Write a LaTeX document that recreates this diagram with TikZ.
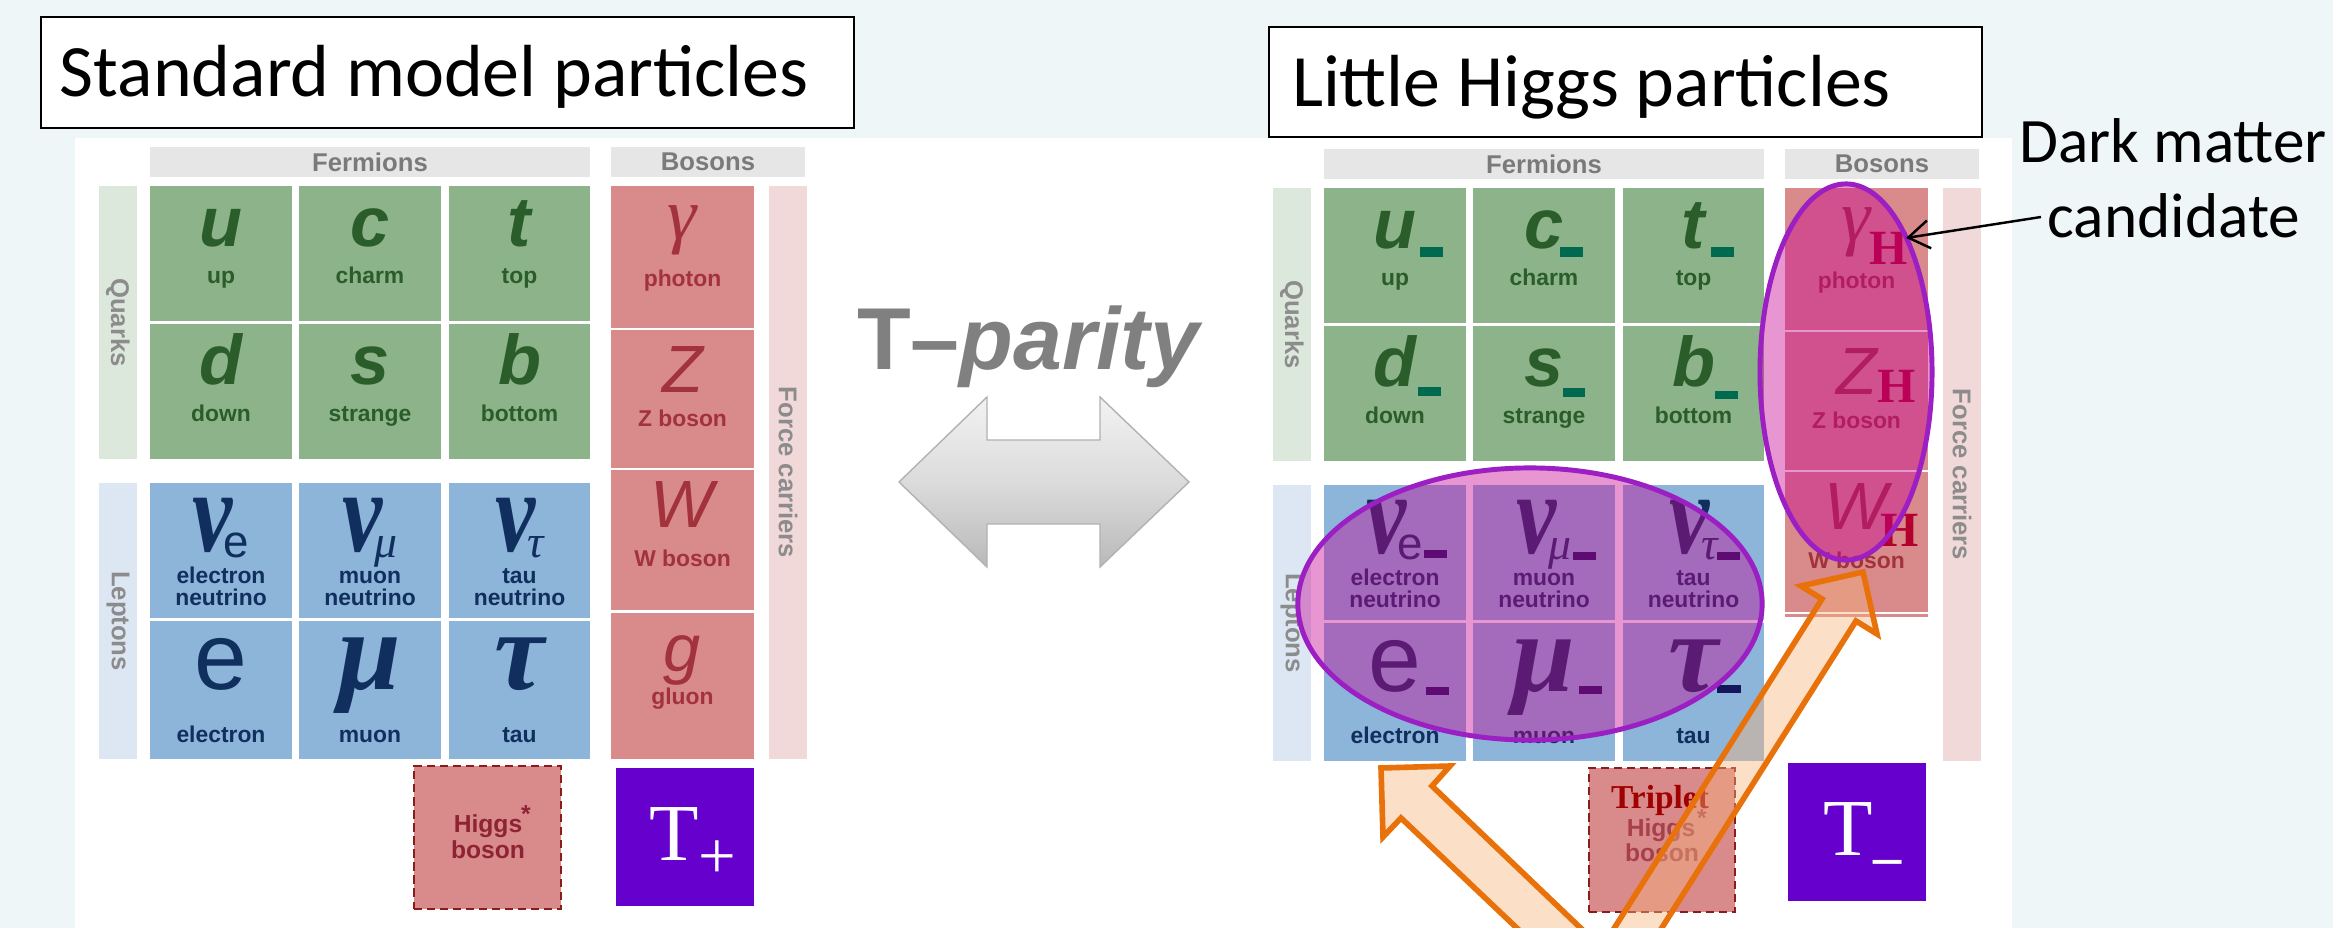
\documentclass[tikz,border=0pt]{standalone}
\usepackage{fontspec}
\usetikzlibrary{shapes.geometric,arrows.meta}
\newfontfamily\lsans{Liberation Sans}
\newfontfamily\lserif{Liberation Serif}
\newfontfamily\calib{Carlito}
\newcommand\fsz[1]{\fontsize{#1}{#1}\selectfont}
\definecolor{bgc}{HTML}{EEF6F8}
\definecolor{gcell}{HTML}{8DB38B}
\definecolor{gtext}{HTML}{2A5D2A}
\definecolor{bcell}{HTML}{8DB4D9}
\definecolor{btext}{HTML}{102E5E}
\definecolor{rcell}{HTML}{D98A8A}
\definecolor{rtext}{HTML}{A2323C}
\definecolor{hdrc}{HTML}{E6E6E6}
\definecolor{hdrt}{HTML}{7A7A7A}
\definecolor{qbarc}{HTML}{DDE8DD}
\definecolor{lbarc}{HTML}{DCE7F3}
\definecolor{fbarc}{HTML}{F1D8D9}
\definecolor{bart}{HTML}{8C8C8C}
\definecolor{tpurple}{HTML}{6600CC}
\definecolor{hborder}{HTML}{8A1C1C}
\definecolor{htext}{HTML}{8E2433}
\definecolor{htext2}{HTML}{A8404C}
\definecolor{tripc}{HTML}{A00000}
\definecolor{magfill}{RGB}{199,1,148}
\definecolor{magline}{HTML}{9B1FC3}
\definecolor{orangeline}{RGB}{232,113,10}
\definecolor{peach}{RGB}{246,180,122}
\definecolor{qmark}{HTML}{006A50}
\definecolor{lmark}{HTML}{15155E}
\definecolor{hred}{HTML}{B3002F}
\definecolor{tparc}{HTML}{808080}
\tikzset{
  every node/.style={inner sep=0pt, outer sep=0pt},
  gc/.style={fill=gcell},
  bc/.style={fill=bcell},
  rc/.style={fill=rcell},
  hb/.style={fill=hdrc},
  hdrtxt/.style={font=\lsans\bfseries\fsz{7.3}, text=hdrt},
  bartxt/.style={font=\lsans\bfseries\fsz{7.3}, text=bart, rotate=-90},
  qsym/.style={font=\lsans\bfseries\itshape\fsz{20}, text=gtext, anchor=base},
  nusym/.style={font=\lserif\bfseries\itshape\fsz{33}, text=btext, anchor=base},
  bsym/.style={text=btext, anchor=base},
  rsym/.style={font=\lsans\itshape\fsz{19}, text=rtext, anchor=base},
  glab/.style={font=\lsans\bfseries\fsz{6.5}, text=gtext, anchor=base},
  blab/.style={font=\lsans\bfseries\fsz{6.5}, text=btext, anchor=base},
  rlab/.style={font=\lsans\bfseries\fsz{6.5}, text=rtext, anchor=base},
  titlebox/.style={draw=black, line width=0.8pt, fill=white},
  titletxt/.style={font=\calib\fsz{21}, text=black, anchor=base west},
  higgsbox/.style={fill=rcell, draw=hborder, line width=0.8pt, dash pattern=on 2.3pt off 1.4pt},
  higgstxt/.style={font=\lsans\bfseries\fsz{7}, text=htext, anchor=base},
  tbox/.style={fill=tpurple},
  ttxt/.style={font=\lserif\fsz{23}, text=white, anchor=base},
  hsub/.style={font=\lserif\bfseries\fsz{14}, text=hred, anchor=base},
  blob/.style={ellipse, fill=magfill, fill opacity=0.41, draw=magline, line width=1.4pt},
  bigarrow/.style={draw=orangeline, line width=1.6pt, fill=peach, fill opacity=0.42, line join=miter},
}
% name x1 y1 x2 y2 style
\newcommand\cbox[6]{\node[#6, minimum width={(#4-#2)*0.01cm}, minimum height={(#5-#3)*0.01cm}] (#1) at ({(#2+#4)/2},{(#3+#5)/2}) {};}
\newcommand\qcell[7]{%
  \cbox{#1}{#2}{#3}{#4}{#5}{gc}
  \node[qsym] (#1s) at ({(#2+#4)/2},{#3+61}) {#6};
  \node[glab] (#1l) at ({(#2+#4)/2},{#3+98}) {#7};}
\newcommand\nucell[7]{%
  \cbox{#1}{#2}{#3}{#4}{#5}{bc}
  \node[nusym] (#1s) at ({(#2+#4)/2},{#3+69}) {\scalebox{0.78}[1]{ν}\kern-2.5pt\raisebox{-1.6pt}{#6}};
  \node[blab] (#1l) at ({(#2+#4)/2},{#3+101}) {#7};
  \node[blab] (#1m) at ({(#2+#4)/2},{#3+123}) {neutrino};}
\newcommand\lcell[7]{%
  \cbox{#1}{#2}{#3}{#4}{#5}{bc}
  \node[bsym] (#1s) at ({(#2+#4)/2},{#3+69}) {#6};
  \node[blab] (#1l) at ({(#2+#4)/2},{#3+121}) {#7};}
\newcommand\fgrid[1]{%
  \cbox{#1fer}{150}{147}{590}{177}{hb}
  \node[hdrtxt] (#1fert) at (#1fer) {Fermions};
  \cbox{#1bos}{611}{147}{805}{177}{hb}
  \node[hdrtxt] (#1bost) at (#1bos) {Bosons};
  \cbox{#1qb}{99}{186}{137}{459}{fill=qbarc}
  \node[bartxt] (#1qbt) at (#1qb) {Quarks};
  \cbox{#1lb}{99}{483}{137}{759}{fill=lbarc}
  \node[bartxt] (#1lbt) at (#1lb) {Leptons};
  \cbox{#1fb}{769}{186}{807}{759}{fill=fbarc}
  \node[bartxt] (#1fbt) at (#1fb) {Force carriers};
  \qcell{#1u}{150}{186}{292}{321}{u}{up}
  \qcell{#1c}{299}{186}{441}{321}{c}{charm}
  \qcell{#1t}{449}{186}{590}{321}{t}{top}
  \qcell{#1d}{150}{324}{292}{459}{d}{down}
  \qcell{#1s}{299}{324}{441}{459}{s}{strange}
  \qcell{#1b}{449}{324}{590}{459}{b}{bottom}
  \nucell{#1ne}{150}{483}{292}{618}{{\lsans\mdseries\upshape\fsz{13}e}}{electron}
  \nucell{#1nm}{299}{483}{441}{618}{{\lserif\mdseries\itshape\fsz{13}μ}}{muon}
  \nucell{#1nt}{449}{483}{590}{618}{{\lserif\mdseries\itshape\fsz{13}τ}}{tau}
  \lcell{#1e}{150}{621}{292}{759}{{\lsans\fsz{27}e}}{electron}
  \lcell{#1m}{299}{621}{441}{759}{{\lserif\bfseries\itshape\fsz{32}μ}}{muon}
  \lcell{#1ta}{449}{621}{590}{759}{{\lserif\bfseries\itshape\fsz{32}τ}}{tau}
  \cbox{#1ga}{611}{186}{754}{328}{rc}
  \node[font=\lserif\itshape\fsz{21}, text=rtext, anchor=base] (#1gas) at (682.5,240) {γ};
  \node[rlab] (#1gal) at (682.5,287) {photon};
  \cbox{#1z}{611}{330}{754}{468}{rc}
  \node[rsym] (#1zs) at (682.5,393) {Z};
  \node[rlab] (#1zl) at (682.5,427) {Z boson};
  \cbox{#1w}{611}{470}{754}{610}{rc}
  \node[rsym] (#1ws) at (682.5,528) {W};
  \node[rlab] (#1wl) at (682.5,567) {W boson};
}
\begin{document}
\begin{tikzpicture}[x=0.01cm,y=-0.01cm]
\useasboundingbox (0,0) rectangle (2333,928);
\fill[bgc] (0,0) rectangle (2333,928);
\fill[white] (75,138) rectangle (2012,928);
% titles
\cbox{smbox}{41}{17}{854}{128}{titlebox}
\node[titletxt] (smtitle) at (60,97) {Standard model particles};
\cbox{lhbox}{1269}{27}{1982}{137}{titlebox}
\node[titletxt] (lhtitle) at (1292,107) {Little Higgs particles};
% standard model grid
\fgrid{sm}
\cbox{smg}{611}{613}{754}{759}{rc}
\node[rsym] (smgs) at (682.5,672) {g};
\node[rlab] (smgl) at (682.5,705) {gluon};
\cbox{smh}{414}{766}{561}{909}{higgsbox}
\node[higgstxt] (smh1) at (488,832) {Higgs};
\node[higgstxt] (smh2) at (488,858) {boson};
\node[higgstxt] (smhst) at (526,822) {*};
\cbox{smT}{616}{768}{754}{906}{tbox}
\node[ttxt] (smTt) at (674,860) {T};
\node[font=\lserif\fsz{19}, text=white, anchor=base] (smTp) at (717,878) {+};
% little Higgs grid
\begin{scope}[shift={(1174,2)}]
\fgrid{lh}
\end{scope}
\fill[rcell] (1785,614) rectangle (1928,617);
\foreach \a/\b/\c/\d in {1420/247/1443/257, 1560/247/1583/257, 1711/247/1734/257,
  1418/387/1441/396, 1563/388/1585/397, 1715/391/1738/399}
  \fill[qmark] (\a,\b) rectangle (\c,\d);
\foreach \a/\b/\c/\d in {1424/550/1447/558, 1573/552/1596/560, 1717/552/1740/560,
  1426/687/1449/695, 1579/686/1602/694, 1717/685/1741/693}
  \fill[lmark] (\a,\b) rectangle (\c,\d);
\node[hsub] (lhgah) at (1889,265) {H};
\node[hsub] (lhzh) at (1897,403) {H};
\node[hsub] (lhwh) at (1900,547) {H};
\cbox{lhh}{1589}{768}{1735}{912}{higgsbox}
\node[font=\lserif\bfseries\fsz{9.5}, text=tripc, anchor=base] (lht1) at (1660,808) {Triplet};
\node[higgstxt, text=htext2] (lht2) at (1661,837) {Higgs};
\node[higgstxt, text=htext2] (lht3) at (1662,861) {boson};
\node[higgstxt, text=htext2] (lhtst) at (1702,827) {*};
\cbox{lhT}{1788}{763}{1926}{901}{tbox}
\node[ttxt] (lhTt) at (1848,856) {T};
\node[font=\lserif\bfseries\fsz{16}, text=white, anchor=base] (lhTm) at (1888,876) {–};
% highlight ellipses
\node[blob, minimum width=4.64cm, minimum height=2.72cm] (lepell) at (1530,604) {};
\node[blob, minimum width=1.72cm, minimum height=3.76cm] (bosell) at (1846,372) {};
% dark matter label
\node[font=\calib\fsz{18}, anchor=base] (dm1) at (2173,163) {Dark matter};
\node[font=\calib\fsz{18}, anchor=base] (dm2) at (2174,238) {candidate};
\coordinate (dmfrom) at (2041,217);
\coordinate (dmto) at (1906,238);
\draw[line width=0.7pt, -{Straight Barb[length=6pt, width=8pt]}] (dmfrom) -- (dmto);
% T-parity
\node[font=\lsans\bfseries\fsz{25}, text=tparc, anchor=base west] (tpt) at (857,370) {T–\textit{parity}};
\shade[top color=gray!10, bottom color=gray!55, middle color=gray!28, draw=gray!60, line width=0.4pt]
  (899,482) -- (987,397) -- (987,440) -- (1100,440) -- (1100,397) -- (1189,482)
  -- (1100,567) -- (1100,524) -- (987,524) -- (987,567) -- cycle;
% orange arrows
\begin{scope}
\clip (0,0) rectangle (2333,928);
\draw[bigarrow] (1381,768) -- (1450,766) -- (1432,786) -- (1613,959) -- (1583,991) -- (1401,818) -- (1383,837) -- cycle;
\draw[bigarrow] (1863,572) -- (1877,634) -- (1856,621) -- (1613,1005) -- (1579,984) -- (1822,599) -- (1801,586) -- cycle;
\end{scope}
\end{tikzpicture}
\end{document}
